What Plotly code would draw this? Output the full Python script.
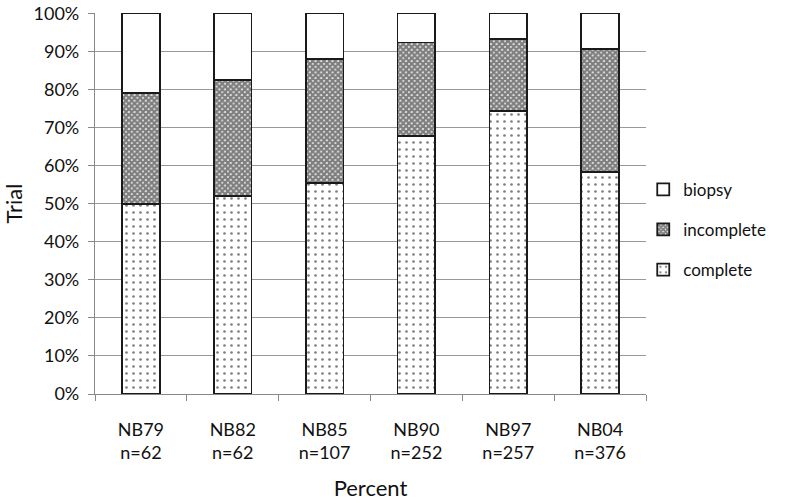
import plotly.graph_objects as go

categories = ["NB79<br>n=62", "NB82<br>n=62", "NB85<br>n=107", "NB90<br>n=252", "NB97<br>n=257", "NB04<br>n=376"]
complete = [50.0, 51.9, 55.4, 67.8, 74.4, 58.4]
incomplete = [29.1, 30.6, 32.6, 24.5, 18.8, 32.2]
biopsy = [20.9, 17.5, 12.0, 7.7, 6.8, 9.4]
y_ticks = [0, 10, 20, 30, 40, 50, 60, 70, 80, 90, 100]

FONT = "Lato"
line = dict(color="#1a1a1a", width=1.8)

fig = go.Figure()
fig.add_trace(go.Bar(
    name="complete", x=categories, y=complete, legendgroup="c", legendrank=3,
    marker=dict(color="white", line=line,
                pattern=dict(shape=".", fgcolor="black", bgcolor="white", size=7, solidity=0.12)),
))
fig.add_trace(go.Bar(
    name="incomplete", x=categories, y=incomplete, legendgroup="i", legendrank=2,
    marker=dict(color="white", line=line,
                pattern=dict(shape="x", fgcolor="black", bgcolor="white", size=4, solidity=0.85)),
))
fig.add_trace(go.Bar(
    name="biopsy", x=categories, y=biopsy, legendgroup="b", legendrank=1,
    marker=dict(color="white", line=line),
))

fig.update_layout(
    barmode="stack",
    bargap=0.59,
    width=786, height=503,
    margin=dict(l=95, r=140, t=13, b=109, autoexpand=False),
    paper_bgcolor="white", plot_bgcolor="white",
    font=dict(family=FONT, size=18, color="#111111"),
    legend=dict(x=0.995, y=0.431, xanchor="left", yanchor="middle",
                traceorder="grouped", font=dict(size=17), itemwidth=30,
                tracegroupgap=15, bgcolor="rgba(0,0,0,0)"),
    xaxis=dict(title=dict(text="Percent", standoff=18), showline=True, linecolor="#888888", linewidth=1.2,
               ticks="outside", tickson="boundaries", ticklen=6, tickcolor="#888888",
               showgrid=False, automargin=False, ticklabelstandoff=19),
    yaxis=dict(title=dict(text="Trial", standoff=44), range=[0, 100.05],
               tickmode="array", tickvals=y_ticks, ticktext=[f"{v}%" for v in y_ticks],
               ticklabeloverflow="allow",
               showline=True, linecolor="#888888", linewidth=1.2,
               ticks="outside", ticklen=6, tickcolor="#888888", ticklabelstandoff=5,
               gridcolor="#999999", gridwidth=1.2, zeroline=False, automargin=False),
)

fig.write_html("out.html", config={"displayModeBar": False},
               post_script="document.body.style.margin='0';document.body.style.overflow='hidden';")
